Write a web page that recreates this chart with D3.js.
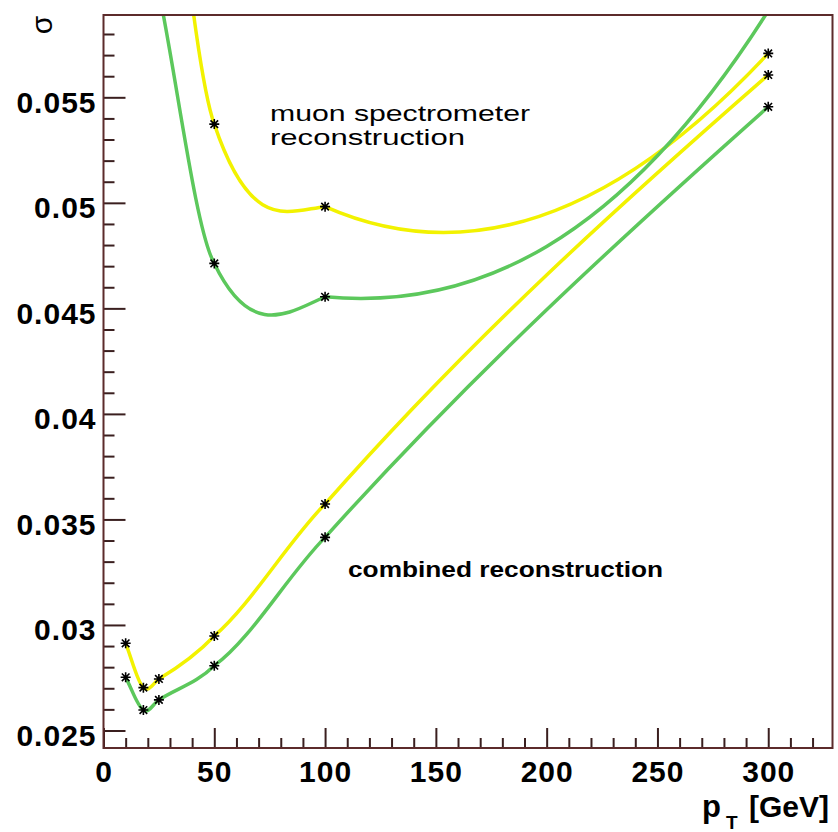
<!DOCTYPE html>
<html>
<head>
<meta charset="utf-8">
<script src="https://cdn.jsdelivr.net/npm/d3@7"></script>
<style>
	html, body { margin: 0; padding: 0; background: #fff; }
	svg { display: block; font-family: 'Liberation Sans', Arial, sans-serif; }
</style>
</head>
<body>
<svg id="graph"></svg>
<script>
	// combined reconstruction, pT points in GeV
	const combinedPt = [10, 18, 25, 50, 100, 300];
	const combinedYellow = [0.02913, 0.02703, 0.02744, 0.02948, 0.03573, 0.05606];
	const combinedGreen = [0.02752, 0.02597, 0.02645, 0.02807, 0.03415, 0.05455];

	// muon spectrometer only (first point sits above the frame)
	const muonPt = [25, 50, 100, 300];
	const muonYellow = [0.072, 0.05373, 0.04982, 0.05708];
	const muonGreen = [0.0600, 0.04713, 0.04555, 0.0591];

	const xTicks = [0, 50, 100, 150, 200, 250, 300];
	const xTickLabels = ['0', '50', '100', '150', '200', '250', '300'];
	const yTicks = [0.025, 0.03, 0.035, 0.04, 0.045, 0.05, 0.055];
	const yTickLabels = ['0.025', '0.03', '0.035', '0.04', '0.045', '0.05', '0.055'];

;(() => {
	'use strict';

	const width = 838,
		height = 832,
		frame = {left: 103.5, top: 15, right: 832.5, bottom: 748},
		yellow = '#f2f200',
		green = '#5cc85c',
		frameColor = '#5c2b2b';

	const svg = d3.select('#graph')
		.attr('width', width)
		.attr('height', height);

	const x = d3.scaleLinear().domain([0, 329]).range([frame.left, frame.right]),
		y = d3.scaleLinear().domain([0.02417, 0.0589]).range([frame.bottom, frame.top]);

	/**
	* zip pt + sigma arrays into points
	*/
	const toPoints = function(pts, vals) {
		return pts.map((p, i) => ({pt: p, sigma: vals[i]}));
	};

	const series = [
		{color: yellow, data: toPoints(muonPt, muonYellow)},
		{color: green, data: toPoints(muonPt, muonGreen)},
		{color: yellow, data: toPoints(combinedPt, combinedYellow)},
		{color: green, data: toPoints(combinedPt, combinedGreen)}
	];

	/**
	* curve factory that imitates root's smoothed graphs:
	* hermite piece per segment (in x), slopes leaning towards the neighbour chords
	*/
	const rootSmooth = function(context) {
		let pts = [];
		const lean = 0.77,// start slope turns back towards the previous chord
			mirror = 0.65,// last point: mirrored bend
			maxAngle = 86 * Math.PI / 180;
		const wrap = a => Math.atan2(Math.sin(a), Math.cos(a)),
			clamp = a => Math.max(-maxAngle, Math.min(maxAngle, a));

		return {
			areaStart() {},
			areaEnd() {},
			lineStart() { pts = []; },
			point(px, py) { pts.push([+px, +py]); },
			lineEnd() {
				const n = pts.length;
				if (!n) return;
				context.moveTo(pts[0][0], pts[0][1]);
				if (n < 3) {
					pts.slice(1).forEach(p => context.lineTo(p[0], p[1]));
					return;
				}
				const ang = [], len = [];
				for (let i = 0; i < n - 1; i++) {
					const dx = pts[i + 1][0] - pts[i][0],
						dy = pts[i + 1][1] - pts[i][1];
					ang.push(Math.atan2(dy, dx));
					len.push(Math.hypot(dx, dy));
				}
				const segs = n - 1;
				for (let i = 0; i < segs; i++) {
					const startDev = i > 0 ? lean * wrap(ang[i - 1] - ang[i]) : 0;
					let endDev;
					if (i < segs - 1) {
						const w = len[i + 1] / (len[i] + len[i + 1]);
						endDev = w * wrap(ang[i + 1] - ang[i]);
					} else {
						endDev = -mirror * startDev;
					}
					const p0 = pts[i],
						p1 = pts[i + 1],
						third = (p1[0] - p0[0]) / 3,
						m0 = Math.tan(clamp(ang[i] + startDev)),
						m1 = Math.tan(clamp(ang[i] + endDev));
					context.bezierCurveTo(
						p0[0] + third, p0[1] + m0 * third,
						p1[0] - third, p1[1] - m1 * third,
						p1[0], p1[1]);
				}
			}
		};
	};

	svg.append('clipPath').attr('id', 'clip')
		.append('rect')
		.attr('x', frame.left).attr('y', frame.top)
		.attr('width', frame.right - frame.left)
		.attr('height', frame.bottom - frame.top);

	// ticks (inside the frame, root style)
	const drawAxes = function() {
		const minorX = d3.range(0, 330, 10).filter(v => v % 50 !== 0),
			minorY = d3.range(25, 59).map(v => v / 1000).filter(v => Math.round(v * 1000) % 5 !== 0);

		const yAxis = svg.append('g')
			.attr('transform', `translate(${frame.left},0)`)
			.call(d3.axisLeft(y).tickValues(yTicks).tickSize(-22).tickPadding(7)
				.tickFormat((d, i) => yTickLabels[i]));
		svg.append('g')
			.attr('transform', `translate(${frame.left},0)`)
			.call(d3.axisLeft(y).tickValues(minorY).tickSize(-11).tickFormat(''));

		svg.append('g')
			.attr('transform', `translate(0,${frame.bottom})`)
			.call(d3.axisBottom(x).tickValues(xTicks).tickSize(-20).tickPadding(13)
				.tickFormat((d, i) => xTickLabels[i]));
		svg.append('g')
			.attr('transform', `translate(0,${frame.bottom})`)
			.call(d3.axisBottom(x).tickValues(minorX).tickSize(-10).tickFormat(''));

		svg.selectAll('.domain').remove();
		svg.selectAll('.tick line').attr('stroke', '#3a1f1f').attr('stroke-width', 2);
		svg.selectAll('.tick text')
			.attr('fill', '#000')
			.style('font-size', '30px')
			.style('font-weight', 'bold')
			.style('letter-spacing', '1px')
			.style('font-family', "'Liberation Sans', Arial, sans-serif");
		yAxis.selectAll('text').attr('dy', '0.5em');
	};

	const drawCurves = function() {
		const line = d3.line()
			.x(d => x(d.pt))
			.y(d => y(d.sigma))
			.curve(rootSmooth);

		const g = svg.append('g').attr('clip-path', 'url(#clip)');

		g.selectAll('.curve')
			.data(series)
			.enter()
			.append('path')
			.attr('class', 'curve')
			.attr('fill', 'none')
			.attr('stroke', d => d.color)
			.attr('stroke-width', 3.5)
			.attr('d', d => line(d.data));

		// asterisk markers
		const star = 'M-5,0H5M0,-5V5M-3.8,-3.8L3.8,3.8M-3.8,3.8L3.8,-3.8';
		const pts = series.flatMap(s => s.data)
			.filter(d => d.sigma < y.domain()[1]);
		g.selectAll('.marker')
			.data(pts)
			.enter()
			.append('path')
			.attr('class', 'marker')
			.attr('transform', d => `translate(${x(d.pt)},${y(d.sigma)})`)
			.attr('d', star)
			.attr('stroke', '#000')
			.attr('stroke-width', 1.6)
			.attr('fill', 'none');
	};

	const drawFrame = function() {
		svg.append('rect')
			.attr('x', frame.left).attr('y', frame.top)
			.attr('width', frame.right - frame.left)
			.attr('height', frame.bottom - frame.top)
			.attr('fill', 'none')
			.attr('stroke', frameColor)
			.attr('stroke-width', 2);
	};

	const drawLabels = function() {
		svg.append('text')
			.attr('transform', 'translate(52,25) rotate(-90)')
			.attr('text-anchor', 'middle')
			.style('font-size', '30px')
			.text('σ');

		svg.append('text')
			.attr('x', 829).attr('y', 817)
			.attr('text-anchor', 'end')
			.style('font-size', '30px').style('font-weight', 'bold')
			.text('[GeV]');
		svg.append('text')
			.attr('x', 702).attr('y', 817)
			.style('font-size', '31px').style('font-weight', 'bold')
			.text('p');
		svg.append('text')
			.attr('x', 726).attr('y', 829)
			.style('font-size', '19px').style('font-weight', 'bold')
			.text('T');

		svg.append('text')
			.attr('x', 270).attr('y', 120.5)
			.attr('textLength', 260).attr('lengthAdjust', 'spacingAndGlyphs')
			.style('font-size', '22px')
			.text('muon spectrometer');
		svg.append('text')
			.attr('x', 270).attr('y', 145)
			.attr('textLength', 195).attr('lengthAdjust', 'spacingAndGlyphs')
			.style('font-size', '22px')
			.text('reconstruction');

		svg.append('text')
			.attr('x', 348).attr('y', 577)
			.attr('textLength', 315).attr('lengthAdjust', 'spacingAndGlyphs')
			.style('font-size', '22px').style('font-weight', 'bold')
			.text('combined reconstruction');
	};

	const init = function() {
		drawAxes();
		drawCurves();
		drawFrame();
		drawLabels();
	};

	init();
})();
</script>
</body>
</html>
